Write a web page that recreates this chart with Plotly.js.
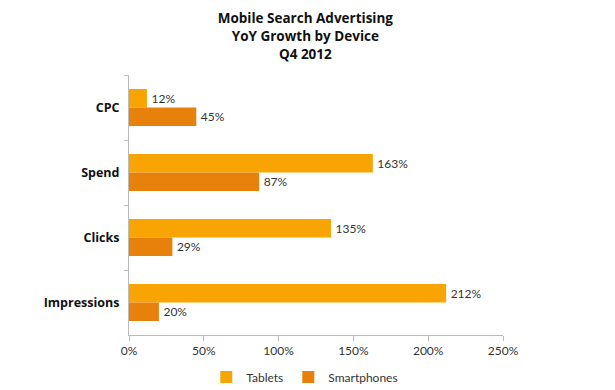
<!DOCTYPE html>
<html>
<head>
<meta charset="utf-8">
<script src="https://cdn.plot.ly/plotly-3.0.1.min.js"></script>
<style>html,body{margin:0;padding:0;background:#fff;}#chart{width:615px;height:390px;}</style>
</head>
<body>
<div id="chart"></div>
<script>
const categories = ["CPC", "Spend", "Clicks", "Impressions"];
const tablets = [12, 163, 135, 212];
const smartphones = [45, 87, 29, 20];
const seriesNames = ["Tablets", "Smartphones"];
const xTickVals = [0, 50, 100, 150, 200, 250];
const xTickText = ["0%", "50%", "100%", "150%", "200%", "250%"];

const labelFont = {family: "Lato, 'Open Sans', sans-serif", size: 12, color: "#333"};

function barTrace(name, vals, color) {
  return {
    type: "bar", orientation: "h", name: name,
    y: categories, x: vals,
    marker: {color: color},
    text: vals.map(v => "\u2009" + v + "%"),
    textposition: "outside",
    textfont: {family: "Lato, 'Open Sans', sans-serif", size: 12, color: "#333"},
    cliponaxis: false,
    hoverinfo: "x+y"
  };
}

const data = [
  barTrace(seriesNames[0], tablets, "#F8A503"),
  barTrace(seriesNames[1], smartphones, "#E8800C")
];

const layout = {
  width: 615, height: 390,
  margin: {l: 129, r: 112, t: 75, b: 55, autoexpand: false},
  paper_bgcolor: "#fff", plot_bgcolor: "#fff",
  barmode: "group", bargap: 0.43, bargroupgap: 0,
  title: {
    text: "Mobile Search Advertising<br>YoY Growth by Device<br>Q4 2012",
    font: {family: "'Open Sans', Lato, sans-serif", size: 13.5, color: "#111", weight: "bold"},
    x: 0.4715, xanchor: "center", xref: "paper",
    y: 0.94, yanchor: "top", yref: "container"
  },
  xaxis: {
    range: [0, 250], tickvals: xTickVals, ticktext: xTickText,
    showgrid: false, zeroline: false,
    showline: true, linecolor: "#bbb", linewidth: 1,
    ticks: "outside", ticklen: 5, tickcolor: "#bbb",
    tickfont: labelFont, fixedrange: true
  },
  yaxis: {
    autorange: "reversed", type: "category",
    showgrid: false, zeroline: false,
    showline: true, linecolor: "#bbb", linewidth: 1,
    ticks: "outside", ticklen: 4, tickcolor: "#bbb", tickson: "boundaries",
    ticklabelstandoff: 6,
    tickfont: {family: "'Open Sans', Lato, sans-serif", size: 12.5, color: "#111", weight: "bold"}
  },
  legend: {
    orientation: "h", x: 0.47, xanchor: "center", y: -0.162, yanchor: "middle",
    font: labelFont, itemwidth: 30, traceorder: "normal"
  },
  showlegend: true
};

Plotly.newPlot("chart", data, layout, {displayModeBar: false, staticPlot: true});
</script>
</body>
</html>
